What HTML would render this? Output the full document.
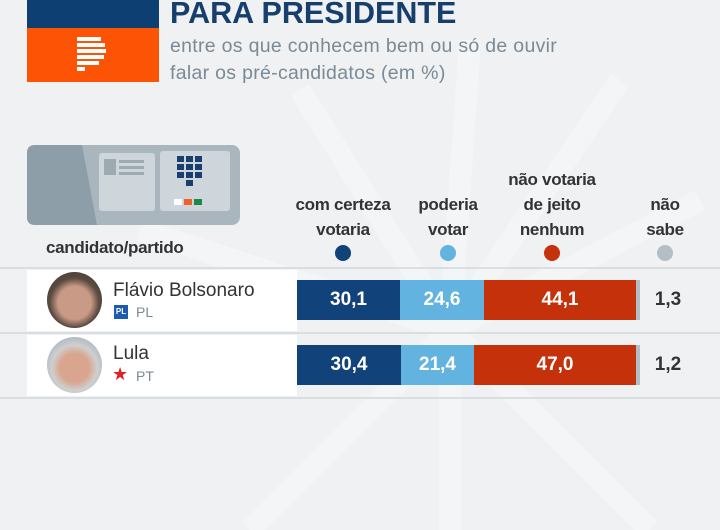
<!DOCTYPE html><html><head><meta charset="utf-8"><style>
body{margin:0;width:720px;height:530px;background:#eff1f3;font-family:"Liberation Sans",sans-serif;position:relative;overflow:hidden}
.a{position:absolute}
.h{font-weight:bold;font-size:17px;color:#333;text-align:center;line-height:25px;letter-spacing:-0.3px}
.dot{position:absolute;width:16px;height:16px;border-radius:50%}
.v{position:absolute;top:0;height:40px;line-height:40px;text-align:center;color:#fff;font-size:19px;font-weight:bold}
</style></head><body>
<svg class="a" style="left:0;top:0" width="720" height="530"><g stroke="#f3f5f6" stroke-width="22" fill="none">
<line x1="450" y1="330" x2="300" y2="90"/><line x1="450" y1="330" x2="470" y2="40"/><line x1="450" y1="330" x2="620" y2="80"/><line x1="450" y1="330" x2="140" y2="230"/><line x1="450" y1="330" x2="250" y2="530"/><line x1="450" y1="330" x2="450" y2="530"/><line x1="450" y1="330" x2="650" y2="530"/><line x1="450" y1="330" x2="700" y2="200"/></g></svg>
<div class="a" style="left:27px;top:0;width:132px;height:28px;background:#0e3f73"></div>
<div class="a" style="left:27px;top:28px;width:132px;height:54px;background:#fc5305"></div>
<svg class="a" style="left:76px;top:36px" width="34" height="40"><g fill="#fff"><rect x="1" y="1" width="24" height="4"/><rect x="1" y="7" width="28" height="4"/><rect x="1" y="13" width="29" height="4"/><rect x="1" y="19" width="27" height="4"/><rect x="1" y="25" width="22" height="4"/><rect x="1" y="31" width="8" height="4"/></g></svg>
<div class="a" style="left:170px;top:-4px;font-size:30.5px;font-weight:bold;color:#173f6c">PARA PRESIDENTE</div>
<div class="a" style="left:170px;top:33px;font-size:19.5px;color:#7b8a95;line-height:27px;letter-spacing:0.3px">entre os que conhecem bem ou só de ouvir<br>falar os pré-candidatos (em %)</div>
<svg class="a" style="left:27px;top:145px" width="215" height="82">
<rect x="0" y="0" width="213" height="80" rx="8" fill="#a9b6be"/>
<path d="M8 0 H55 L70 80 H8 Q0 80 0 72 V8 Q0 0 8 0Z" fill="#8d9ea8"/>
<rect x="72" y="8" width="56" height="58" rx="3" fill="#ced6db"/>
<rect x="77" y="14" width="12" height="16" fill="#9eaab2"/><rect x="92" y="15" width="25" height="3" fill="#9eaab2"/><rect x="92" y="21" width="25" height="3" fill="#9eaab2"/><rect x="92" y="27" width="25" height="3" fill="#9eaab2"/>
<rect x="133" y="6" width="70" height="60" rx="3" fill="#ced6db"/>
<g fill="#183f6e"><rect x="150" y="11" width="7" height="6"/><rect x="159" y="11" width="7" height="6"/><rect x="168" y="11" width="7" height="6"/><rect x="150" y="19" width="7" height="6"/><rect x="159" y="19" width="7" height="6"/><rect x="168" y="19" width="7" height="6"/><rect x="150" y="27" width="7" height="6"/><rect x="159" y="27" width="7" height="6"/><rect x="168" y="27" width="7" height="6"/><rect x="159" y="35" width="7" height="6"/></g>
<rect x="147" y="54" width="8" height="6" fill="#fff"/><rect x="157" y="54" width="8" height="6" fill="#f0602b"/><rect x="167" y="54" width="8" height="6" fill="#1a8a4a"/></svg>
<div class="a h" style="left:273px;top:192px;width:140px">com certeza<br>votaria</div>
<div class="a h" style="left:400px;top:192px;width:96px">poderia<br>votar</div>
<div class="a h" style="left:482px;top:167px;width:140px">não votaria<br>de jeito<br>nenhum</div>
<div class="a h" style="left:625px;top:192px;width:80px">não<br>sabe</div>
<div class="a" style="left:46px;top:238px;font-size:17px;font-weight:bold;color:#333;letter-spacing:-0.3px">candidato/partido</div>
<div class="dot" style="left:335px;top:245px;background:#12427a"></div>
<div class="dot" style="left:440px;top:245px;background:#62b3e0"></div>
<div class="dot" style="left:544px;top:245px;background:#c4310b"></div>
<div class="dot" style="left:657px;top:245px;background:#b3bec5"></div>
<div class="a" style="left:0;top:267px;width:720px;height:2px;background:#d8dee2"></div>
<div class="a" style="left:0;top:332px;width:720px;height:2px;background:#d8dee2"></div>
<div class="a" style="left:0;top:397px;width:720px;height:2px;background:#d8dee2"></div>
<div class="a" style="left:27px;top:270px;width:270px;height:61px;background:#fff"></div>
<div class="a" style="left:27px;top:335px;width:270px;height:61px;background:#fff"></div>
<div class="a" style="left:47px;top:272px;width:55px;height:56px;border-radius:50%;background:radial-gradient(circle at 50% 55%,#c99a85 0 40%,#5b4a40 60%,#3a3a3a)"></div>
<div class="a" style="left:47px;top:337px;width:55px;height:56px;border-radius:50%;background:radial-gradient(circle at 50% 55%,#d9a58e 0 35%,#cfcfcf 55%,#8aa0b8)"></div>
<div class="a" style="left:113px;top:280px;font-size:19px;color:#333">Flávio Bolsonaro</div>
<div class="a" style="left:114px;top:305px;width:14px;height:14px;background:#1d5bb0;color:#fff;font-size:8px;font-weight:bold;text-align:center;line-height:14px">PL</div>
<div class="a" style="left:136px;top:304px;font-size:14px;color:#7b8a95">PL</div>
<div class="a" style="left:113px;top:343px;font-size:19px;color:#333">Lula</div>
<div class="a" style="left:112px;top:364px;font-size:18px;color:#e01f26">★</div>
<div class="a" style="left:136px;top:368px;font-size:14px;color:#7b8a95">PT</div>
<div class="a" style="left:297px;top:280px;width:343px;height:40px">
<div class="v" style="left:0;width:103px;background:#12427a">30,1</div><div class="v" style="left:103px;width:84px;background:#62b3e0">24,6</div><div class="v" style="left:187px;width:152px;background:#c4310b">44,1</div><div class="v" style="left:339px;width:4px;background:#b3bec5"></div></div>
<div class="a" style="left:297px;top:345px;width:343px;height:40px">
<div class="v" style="left:0;width:104px;background:#12427a">30,4</div><div class="v" style="left:104px;width:73px;background:#62b3e0">21,4</div><div class="v" style="left:177px;width:162px;background:#c4310b">47,0</div><div class="v" style="left:339px;width:4px;background:#b3bec5"></div></div>
<div class="a" style="left:640px;top:289px;width:56px;text-align:center;font-size:19px;font-weight:bold;color:#333">1,3</div>
<div class="a" style="left:640px;top:354px;width:56px;text-align:center;font-size:19px;font-weight:bold;color:#333">1,2</div>
</body></html>
